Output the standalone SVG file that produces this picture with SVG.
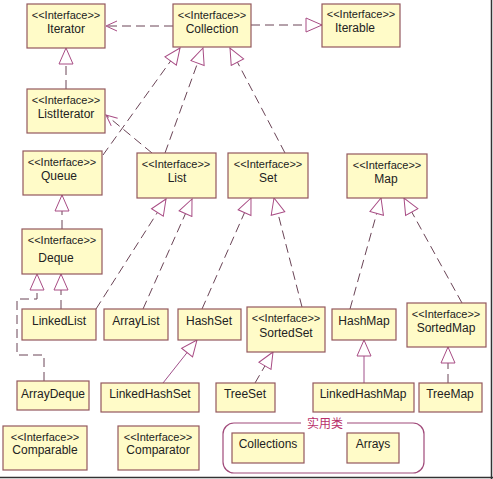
<svg xmlns="http://www.w3.org/2000/svg" width="493" height="479" viewBox="0 0 493 479">
<style>
.box{fill:#fffbc8;stroke:#93585e;stroke-width:1.2}
.st{font-family:"Liberation Sans",Arial,sans-serif;font-size:11px;fill:#222;text-anchor:middle}
.nm{font-family:"Liberation Sans",Arial,sans-serif;font-size:12px;fill:#222;text-anchor:middle}
.dash{fill:none;stroke:#6a4456;stroke-width:1;stroke-dasharray:9 5}
.solid{fill:none;stroke:#a0508a;stroke-width:1}
.grp{fill:none;stroke:#a04a7a;stroke-width:1.2}
.glbl{font-family:"Liberation Sans","Noto Sans CJK SC",sans-serif;font-size:12px;fill:#b8306a;text-anchor:middle}
</style>
<defs>
<marker id="tri" markerUnits="userSpaceOnUse" markerWidth="18" markerHeight="16" viewBox="0 0 18 16" refX="17" refY="8" orient="auto">
<path d="M17,8 L1,1 L1,15 Z" fill="#fff" stroke="#a84c84" stroke-width="1"/>
</marker>
<marker id="open" markerUnits="userSpaceOnUse" markerWidth="14" markerHeight="14" viewBox="0 0 14 14" refX="12" refY="7" orient="auto">
<path d="M1,2 L12,7 L1,12" fill="none" stroke="#a84c84" stroke-width="1"/>
</marker>
</defs>
<rect x="0" y="0" width="493" height="479" fill="#fff"/>
<line x1="491.5" y1="0" x2="491.5" y2="479" stroke="#333" stroke-width="1.5"/>
<line x1="0" y1="477.5" x2="493" y2="477.5" stroke="#333" stroke-width="1.5"/>

<g id="connectors">
<path class="dash" d="M173,26 L106,26" marker-end="url(#open)"/>
<path class="dash" d="M251,25 L322,25" marker-end="url(#tri)"/>
<path class="dash" d="M66,89 L66,48" marker-end="url(#tri)"/>
<path class="dash" d="M103,155 L180,48" marker-end="url(#tri)"/>
<path class="dash" d="M165,153 L203,48" marker-end="url(#tri)"/>
<path class="dash" d="M285,153 L230,48" marker-end="url(#tri)"/>
<path class="dash" d="M152,153 L106,115" marker-end="url(#open)"/>
<path class="dash" d="M62,229 L62,195" marker-end="url(#tri)"/>
<path class="dash" d="M61,309 L61,274" marker-end="url(#tri)"/>
<path class="dash" d="M44,381 L44,355 L17,355 L17,299 L37,299 L37,274" marker-end="url(#tri)"/>
<path class="dash" d="M96,309 L166,199" marker-end="url(#tri)"/>
<path class="dash" d="M143,309 L192,199" marker-end="url(#tri)"/>
<path class="dash" d="M202,309 L251,198" marker-end="url(#tri)"/>
<path class="dash" d="M302,307 L274,198" marker-end="url(#tri)"/>
<path class="dash" d="M350,309 L381,198" marker-end="url(#tri)"/>
<path class="dash" d="M462,303 L404,198" marker-end="url(#tri)"/>
<path class="solid" d="M163,383 L197,340" marker-end="url(#tri)"/>
<path class="dash" d="M255,383 L273,352" marker-end="url(#tri)"/>
<path class="solid" d="M364,383 L364,340" marker-end="url(#tri)"/>
<path class="dash" d="M448,383 L448,347" marker-end="url(#tri)"/>
</g>

<g id="Iterator"><rect class="box" x="27" y="4" width="78" height="44"/><text class="st" x="66" y="19">&lt;&lt;Interface&gt;&gt;</text><text class="nm" x="66" y="33">Iterator</text></g>
<g id="Collection"><rect class="box" x="173" y="4" width="78" height="43"/><text class="st" x="212" y="19">&lt;&lt;Interface&gt;&gt;</text><text class="nm" x="212" y="33">Collection</text></g>
<g id="Iterable"><rect class="box" x="322" y="4" width="78" height="43"/><text class="st" x="361" y="18">&lt;&lt;Interface&gt;&gt;</text><text class="nm" x="355" y="32">Iterable</text></g>
<g id="ListIterator"><rect class="box" x="27" y="89" width="78" height="44"/><text class="st" x="66" y="104">&lt;&lt;Interface&gt;&gt;</text><text class="nm" x="66" y="118">ListIterator</text></g>
<g id="Queue"><rect class="box" x="23" y="151" width="79" height="44"/><text class="st" x="62" y="166">&lt;&lt;Interface&gt;&gt;</text><text class="nm" x="59" y="180">Queue</text></g>
<g id="List"><rect class="box" x="137" y="153" width="79" height="45"/><text class="st" x="176" y="168">&lt;&lt;Interface&gt;&gt;</text><text class="nm" x="177" y="182">List</text></g>
<g id="Set"><rect class="box" x="228" y="153" width="80" height="45"/><text class="st" x="268" y="168">&lt;&lt;Interface&gt;&gt;</text><text class="nm" x="268" y="182">Set</text></g>
<g id="Map"><rect class="box" x="347" y="154" width="80" height="44"/><text class="st" x="387" y="169">&lt;&lt;Interface&gt;&gt;</text><text class="nm" x="386" y="183">Map</text></g>
<g id="Deque"><rect class="box" x="22" y="229" width="80" height="45"/><text class="st" x="62" y="244">&lt;&lt;Interface&gt;&gt;</text><text class="nm" x="56" y="262">Deque</text></g>
<g id="LinkedList"><rect class="box" x="22" y="309" width="74" height="31"/><text class="nm" x="59" y="325">LinkedList</text></g>
<g id="ArrayList"><rect class="box" x="104" y="309" width="64" height="31"/><text class="nm" x="136" y="325">ArrayList</text></g>
<g id="HashSet"><rect class="box" x="178" y="309" width="63" height="31"/><text class="nm" x="209" y="325">HashSet</text></g>
<g id="SortedSet"><rect class="box" x="247" y="307" width="78" height="45"/><text class="st" x="286" y="322">&lt;&lt;Interface&gt;&gt;</text><text class="nm" x="286" y="337">SortedSet</text></g>
<g id="HashMap"><rect class="box" x="332" y="309" width="64" height="31"/><text class="nm" x="364" y="325">HashMap</text></g>
<g id="SortedMap"><rect class="box" x="407" y="303" width="79" height="44"/><text class="st" x="446" y="318">&lt;&lt;Interface&gt;&gt;</text><text class="nm" x="446" y="332">SortedMap</text></g>
<g id="ArrayDeque"><rect class="box" x="17" y="381" width="72" height="29"/><text class="nm" x="53" y="398">ArrayDeque</text></g>
<g id="LinkedHashSet"><rect class="box" x="101" y="383" width="98" height="29"/><text class="nm" x="150" y="398">LinkedHashSet</text></g>
<g id="TreeSet"><rect class="box" x="216" y="383" width="59" height="29"/><text class="nm" x="245" y="398">TreeSet</text></g>
<g id="LinkedHashMap"><rect class="box" x="313" y="383" width="101" height="29"/><text class="nm" x="363" y="398">LinkedHashMap</text></g>
<g id="TreeMap"><rect class="box" x="419" y="383" width="63" height="29"/><text class="nm" x="450" y="398">TreeMap</text></g>
<g id="Comparable"><rect class="box" x="3" y="426" width="84" height="44"/><text class="st" x="45" y="441">&lt;&lt;Interface&gt;&gt;</text><text class="nm" x="45" y="454">Comparable</text></g>
<g id="Comparator"><rect class="box" x="118" y="426" width="81" height="44"/><text class="st" x="158" y="441">&lt;&lt;Interface&gt;&gt;</text><text class="nm" x="158" y="454">Comparator</text></g>

<g id="utility">
<rect class="grp" x="223" y="423" width="201" height="50" rx="11" ry="11"/>
<rect x="301" y="417" width="46" height="12" fill="#fff"/>
<text class="glbl" x="325" y="428">实用类</text>
<g id="Collections"><rect class="box" x="232" y="433" width="72" height="30"/><text class="nm" x="268" y="448">Collections</text></g>
<g id="Arrays"><rect class="box" x="347" y="433" width="52" height="30"/><text class="nm" x="373" y="448">Arrays</text></g>
</g>
</svg>
